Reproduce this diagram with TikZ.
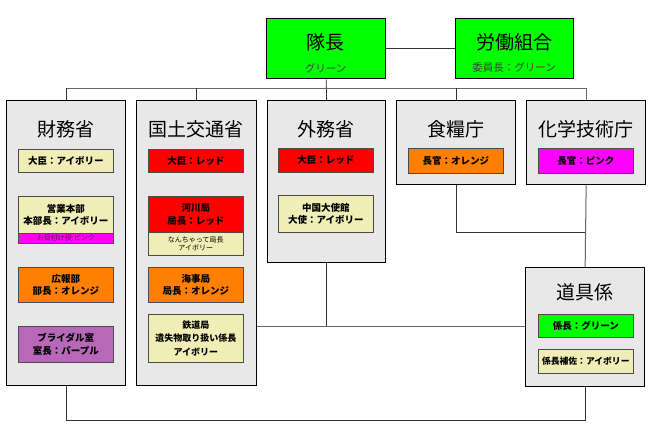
\documentclass[tikz,border=0pt]{standalone}
\usepackage{fontspec}
\setmainfont{Noto Sans CJK JP}
\definecolor{grn}{HTML}{00FF00}
\definecolor{ivory}{HTML}{F0EEB6}
\definecolor{orng}{HTML}{FF8000}
\definecolor{purp}{HTML}{B868B8}
\definecolor{mag}{HTML}{FF00FF}
\definecolor{rd}{HTML}{FF0000}
\definecolor{outerfill}{HTML}{E8E8E8}
\tikzset{
  outerbox/.style={draw=black, line width=1.3pt, fill=outerfill, anchor=north west, inner sep=0pt},
  topbox/.style={draw=black, line width=1.3pt, fill=grn, anchor=north west, inner sep=0pt},
  innerbox/.style={draw=black!70, line width=0.6pt, anchor=north west, inner sep=0pt, align=center,
     font=\fontsize{9.5}{12.5}\selectfont\bfseries, minimum width=95pt},
  smallbox/.style={innerbox, font=\fontsize{7}{8.5}\selectfont},
  titletext/.style={font=\fontsize{19}{22}\selectfont, inner sep=0pt},
  subtext/.style={font=\fontsize{10.5}{12}\selectfont, inner sep=0pt, text=black!75},
  conn/.style={draw=black!80, line width=0.8pt},
  gconn/.style={draw=black!60, line width=1pt}
}
\begin{document}
\begin{tikzpicture}[x=1pt,y=-1pt]
\useasboundingbox[fill=white] (0,0) rectangle (650,429);
% top boxes
\node[topbox, minimum width=119pt, minimum height=60pt] (taicho) at (266,18) {};
\node[titletext] (taichoT) at (325.5,42) {隊長};
\node[subtext] (taichoS) at (325.5,68) {グリーン};
\node[topbox, minimum width=118pt, minimum height=60pt] (roudou) at (455,18) {};
\node[titletext] (roudouT) at (514,42) {労働組合};
\node[subtext] (roudouS) at (514,68) {委員長：グリーン};
% outer boxes
\node[outerbox, minimum width=119pt, minimum height=285pt] (zaimu) at (6,100) {};
\node[outerbox, minimum width=120pt, minimum height=285pt] (kokudo) at (136,100) {};
\node[outerbox, minimum width=118pt, minimum height=162pt] (gaimu) at (267,100) {};
\node[outerbox, minimum width=119pt, minimum height=84pt] (shoku) at (396,100) {};
\node[outerbox, minimum width=119pt, minimum height=84pt] (kagaku) at (526,100) {};
\node[outerbox, minimum width=119pt, minimum height=119pt] (dougu) at (525,267) {};
% titles
\node[titletext] (zaimuT) at (65.5,129) {財務省};
\node[titletext] (kokudoT) at (196,129) {国土交通省};
\node[titletext] (gaimuT) at (326,129) {外務省};
\node[titletext] (shokuT) at (455.5,129) {食糧庁};
\node[titletext] (kagakuT) at (585.5,129) {化学技術庁};
\node[titletext] (douguT) at (584.5,292) {道具係};
% 財務省 contents
\node[innerbox, fill=ivory, minimum height=23pt] (z1) at (18,149) {大臣：アイボリー};
\node[innerbox, fill=ivory, minimum height=37pt] (z2) at (18,196) {営業本部\\本部長：アイボリー};
\node[smallbox, fill=mag, minimum height=10pt, text=black!70!mag] (z2b) at (18,233) {お目付け役:ピンク};
\node[innerbox, fill=orng, minimum height=35pt] (z3) at (18,267) {広報部\\部長：オレンジ};
\node[innerbox, fill=purp, minimum height=36pt] (z4) at (18,326) {ブライダル室\\室長：パープル};
% 国土交通省 contents
\node[innerbox, fill=rd, minimum height=23pt] (k1) at (148,149) {大臣：レッド};
\node[innerbox, fill=rd, minimum height=36pt] (k2) at (148,196) {河川局\\局長：レッド};
\node[smallbox, fill=ivory, minimum height=23pt] (k2b) at (148,232) {なんちゃって局長\\アイボリー};
\node[innerbox, fill=orng, minimum height=35pt] (k3) at (148,267) {海事局\\局長：オレンジ};
\node[innerbox, fill=ivory, minimum height=48pt, font=\fontsize{9}{13.5}\selectfont\bfseries] (k4) at (148,314) {鉄道局\\遺失物取り扱い係長\\アイボリー};
% 外務省 contents
\node[innerbox, fill=rd, minimum height=24pt] (g1) at (278,148) {大臣：レッド};
\node[innerbox, fill=ivory, minimum height=37pt] (g2) at (278,195) {中国大使館\\大使：アイボリー};
% 食糧庁, 化学技術庁
\node[innerbox, fill=orng, minimum height=25pt] (s1) at (408,148) {長官：オレンジ};
\node[innerbox, fill=mag, minimum height=25pt] (c1) at (538,148) {長官：ピンク};
% 道具係
\node[innerbox, fill=grn, minimum height=23pt] (d1) at (538,314) {係長：グリーン};
\node[innerbox, fill=ivory, minimum height=24pt, font=\fontsize{8.8}{11}\selectfont\bfseries] (d2) at (538,349) {係長補佐：アイボリー};
% connectors
\coordinate (busy) at (0,88);
\coordinate (midy) at (0,326);
\coordinate (sky) at (0,232);
\coordinate (boty) at (0,420);
\draw[conn] (taicho.east) -- (roudou.west);
\draw[conn] (taicho.south) -- (gaimu.north);
\draw[gconn] (zaimu.north |- busy) -- (kagaku.north |- busy);
\draw[conn] (zaimu.north |- busy) -- (zaimu.north);
\draw[conn] (kokudo.north |- busy) -- (kokudo.north);
\draw[conn] (shoku.north |- busy) -- (shoku.north);
\draw[gconn] (kagaku.north |- busy) -- (kagaku.north);
\draw[conn] (shoku.south) -- (shoku.south |- sky) -- (kagaku.south |- sky);
\draw[gconn] (kagaku.south) -- (dougu.north);
\draw[gconn] (kokudo.east |- midy) -- (dougu.west |- midy);
\draw[conn] (gaimu.south) -- (gaimu.south |- midy);
\draw[conn] (zaimu.south) -- (zaimu.south |- boty) -- (dougu.south |- boty) -- (dougu.south);
\end{tikzpicture}
\end{document}
